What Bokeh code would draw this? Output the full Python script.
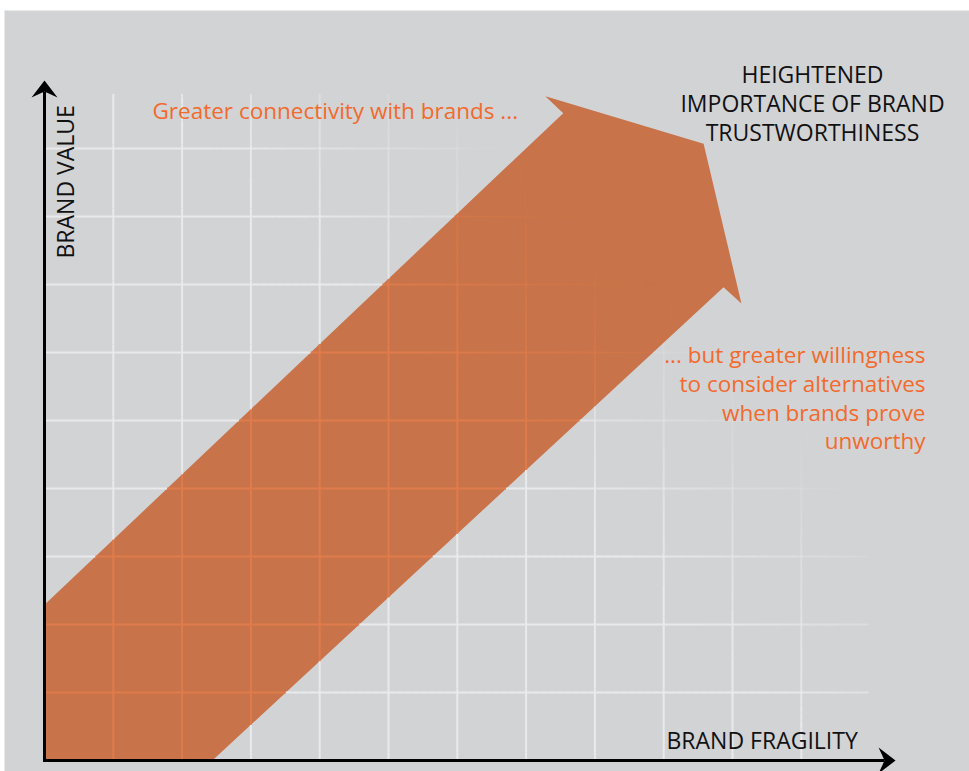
import numpy as np
from bokeh.plotting import figure
from bokeh.models import Range1d, ColumnDataSource
from bokeh.core.properties import value
from bokeh.embed import file_html
from bokeh.resources import INLINE

# ---------------- data (grid units) ----------------
grid_u = [1, 2, 3, 4, 5, 6, 7, 8, 9, 10, 11]
grid_v = [1, 2, 3, 4, 5, 6, 7, 8, 9]
grid_u_end = 11.98
grid_v_end = 9.8

arrow_u = [0.0, 2.44, 9.87, 10.13, 9.58, 7.28, 7.54, 0.0]
arrow_v = [0.0, 0.0, 6.96, 6.72, 9.07, 9.77, 9.52, 2.29]

y_axis_top = 10.0
x_axis_end = 12.37

y_label = "BRAND VALUE"
x_label = "BRAND FRAGILITY"
top_right = ["HEIGHTENED", "IMPORTANCE OF BRAND", "TRUSTWORTHINESS"]
top_left = "Greater connectivity with brands ..."
right_note = ["... but greater willingness", "to consider alternatives",
              "when brands prove", "unworthy"]

# ---------------- layout / styles ----------------
W, H = 969, 771
FL, FT = 4, 10                    # white strip left / top
OX, OY = 44, 760                  # origin in page pixels
SX, SY = 68.8, 68.0               # pixels per grid unit
BG = "#d2d3d5"
ARROW = "#c87349"
GRID_OUT = "#e9eaec"
GRID_IN = "#e07c4b"
ORANGE = "#f26a2c"
FONT = value("Open Sans")
TXT_SHIFT = 9.5                   # baseline correction in px


def ux(px):
    return (px - OX) / SX


def vy(py):
    return (OY - py) / SY


p = figure(width=W, height=H, output_backend="svg", toolbar_location=None,
           x_axis_type=None, y_axis_type=None,
           min_border_left=FL, min_border_top=FT, min_border_right=0, min_border_bottom=0,
           x_range=Range1d(ux(FL), ux(W)), y_range=Range1d(vy(H), vy(FT)),
           background_fill_color=BG, border_fill_color="white",
           outline_line_color=None)
p.grid.visible = False


def inside(x, y, px, py):
    res = False
    n = len(px)
    j = n - 1
    for i in range(n):
        if (py[i] > y) != (py[j] > y):
            xi = (px[j] - px[i]) * (y - py[i]) / (py[j] - py[i]) + px[i]
            if x < xi:
                res = not res
        j = i
    return res


def fade(u, v):
    return min(1.0, max(0.0, (15.9 - (u + v)) / 4.5))


seg = dict(x0=[], y0=[], x1=[], y1=[], c=[], a=[])


def add_line(fixed, end, horizontal, step_units):
    ts = list(np.arange(0.0, end, step_units)) + [end]
    n = len(arrow_u)
    for i in range(n):
        j = (i + 1) % n
        if horizontal:
            a, b = arrow_v[i], arrow_v[j]
            if (a - fixed) * (b - fixed) < 0:
                t = arrow_u[i] + (fixed - a) / (b - a) * (arrow_u[j] - arrow_u[i])
                if 0 < t < end:
                    ts.append(t)
        else:
            a, b = arrow_u[i], arrow_u[j]
            if (a - fixed) * (b - fixed) < 0:
                t = arrow_v[i] + (fixed - a) / (b - a) * (arrow_v[j] - arrow_v[i])
                if 0 < t < end:
                    ts.append(t)
    ts = sorted(set(ts))
    for t0, t1 in zip(ts[:-1], ts[1:]):
        tm = 0.5 * (t0 + t1)
        if horizontal:
            mu, mv = tm, fixed
            x0, y0, x1, y1 = t0, fixed, t1, fixed
        else:
            mu, mv = fixed, tm
            x0, y0, x1, y1 = fixed, t0, fixed, t1
        al = fade(mu, mv)
        if al < 0.02:
            continue
        seg["x0"].append(x0); seg["y0"].append(y0)
        seg["x1"].append(x1); seg["y1"].append(y1)
        seg["c"].append(GRID_IN if inside(mu, mv, arrow_u, arrow_v) else GRID_OUT)
        seg["a"].append(al)


for v in grid_v:
    add_line(v, grid_u_end, True, 8 / SX)
for u in grid_u:
    add_line(u, grid_v_end, False, 8 / SY)

# arrow band
p.patch(arrow_u, arrow_v, fill_color=ARROW, line_color=None)

# grid
p.segment("x0", "y0", "x1", "y1", source=ColumnDataSource(seg),
          line_color="c", line_alpha="a", line_width=2, line_cap="butt")

# axes
head_len, head_half, notch = 17, 13, 6
p.line([0, 0, x_axis_end - (head_len - notch) / SX],
       [y_axis_top - (head_len - notch) / SY, 0, 0],
       line_color="black", line_width=3, line_join="miter")
p.patch([0, -head_half / SX, 0, head_half / SX],
        [y_axis_top, y_axis_top - head_len / SY, y_axis_top - (head_len - notch) / SY,
         y_axis_top - head_len / SY],
        fill_color="black", line_color=None)
p.patch([x_axis_end, x_axis_end - head_len / SX, x_axis_end - (head_len - notch) / SX,
         x_axis_end - head_len / SX],
        [0, head_half / SY, 0, -head_half / SY],
        fill_color="black", line_color=None)

# texts
BLACK_SIZE = "23px"
ORANGE_SIZE = "22.5px"
d = TXT_SHIFT
p.text([ux(74 - d)], [vy(258)], text=[y_label], angle=np.pi / 2,
       text_font=FONT, text_font_size=BLACK_SIZE, text_color="#111111",
       text_align="left", text_baseline="alphabetic")
p.text([ux(666)], [vy(749 - d)], text=[x_label],
       text_font=FONT, text_font_size=BLACK_SIZE, text_color="#111111",
       text_align="left", text_baseline="alphabetic")
p.text([ux(812)] * 3, [vy(83 - d), vy(112 - d), vy(141 - d)], text=top_right,
       text_font=FONT, text_font_size=BLACK_SIZE, text_color="#111111",
       text_align="center", text_baseline="alphabetic")
p.text([ux(152)], [vy(119 - d)], text=[top_left],
       text_font=FONT, text_font_size=ORANGE_SIZE, text_color=ORANGE,
       text_align="left", text_baseline="alphabetic")
p.text([ux(925)] * 4, [vy(363 - d), vy(392 - d), vy(421 - d), vy(449 - d)],
       text=right_note, text_font=FONT, text_font_size=ORANGE_SIZE, text_color=ORANGE,
       text_align="right", text_baseline="alphabetic")

open("out.html", "w").write(file_html(p, INLINE))
